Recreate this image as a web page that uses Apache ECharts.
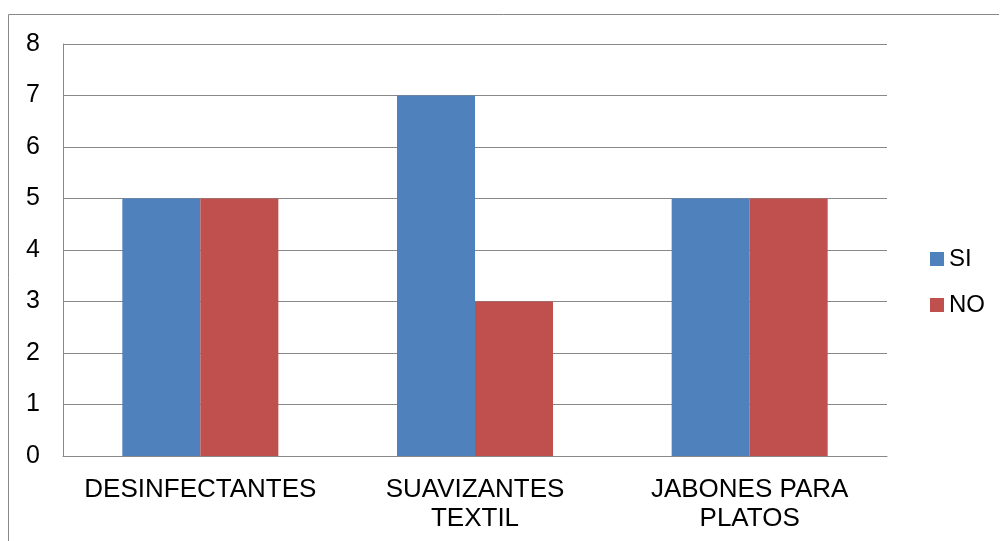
<!DOCTYPE html>
<html>
<head>
<meta charset="utf-8">
<script src="https://cdn.jsdelivr.net/npm/echarts@6/dist/echarts.min.js"></script>
<style>
html, body { margin: 0; padding: 0; background: #fff; }
#chart { width: 1000px; height: 541px; }
</style>
</head>
<body>
<div id="chart"></div>
<script>
var categories = ['DESINFECTANTES', 'SUAVIZANTES\nTEXTIL', 'JABONES PARA\nPLATOS'];
var siValues = [5, 7, 5];
var noValues = [5, 3, 5];

var myChart = echarts.init(document.getElementById('chart'));

var font = 'Liberation Sans, Arial, sans-serif';

var option = {
	animation: false,
	textStyle: { fontFamily: font },
	graphic: [{
		type: 'polyline',
		shape: { points: [[8.5, 541], [8.5, 14.5], [999, 14.5]] },
		style: { stroke: '#888', lineWidth: 1, fill: null }
	}],
	grid: { left: 63, right: 113, top: 44, bottom: 85 },
	legend: {
		orient: 'vertical',
		left: 925,
		top: 242,
		itemWidth: 14,
		itemHeight: 14,
		itemGap: 22,
		icon: 'rect',
		textStyle: { fontSize: 24, color: '#000', fontFamily: font },
		data: ['SI', 'NO']
	},
	xAxis: {
		type: 'category',
		data: categories,
		axisLine: { lineStyle: { color: '#888' } },
		axisTick: { show: false },
		axisLabel: { fontSize: 26, color: '#000', margin: 19, lineHeight: 29, fontFamily: font, interval: 0 }
	},
	yAxis: {
		type: 'value',
		min: 0,
		max: 8,
		interval: 1,
		axisLine: { show: true, lineStyle: { color: '#888' } },
		axisTick: { show: false },
		splitLine: { lineStyle: { color: '#888' } },
		axisLabel: { fontSize: 25, color: '#000', margin: 23, fontFamily: font }
	},
	series: [{
		name: 'SI',
		type: 'bar',
		data: siValues,
		barWidth: 78,
		barGap: '0%',
		itemStyle: { color: '#4F81BD' }
	}, {
		name: 'NO',
		type: 'bar',
		data: noValues,
		barWidth: 78,
		barGap: '0%',
		itemStyle: { color: '#C0504D' }
	}]
};

myChart.setOption(option);
</script>
</body>
</html>
